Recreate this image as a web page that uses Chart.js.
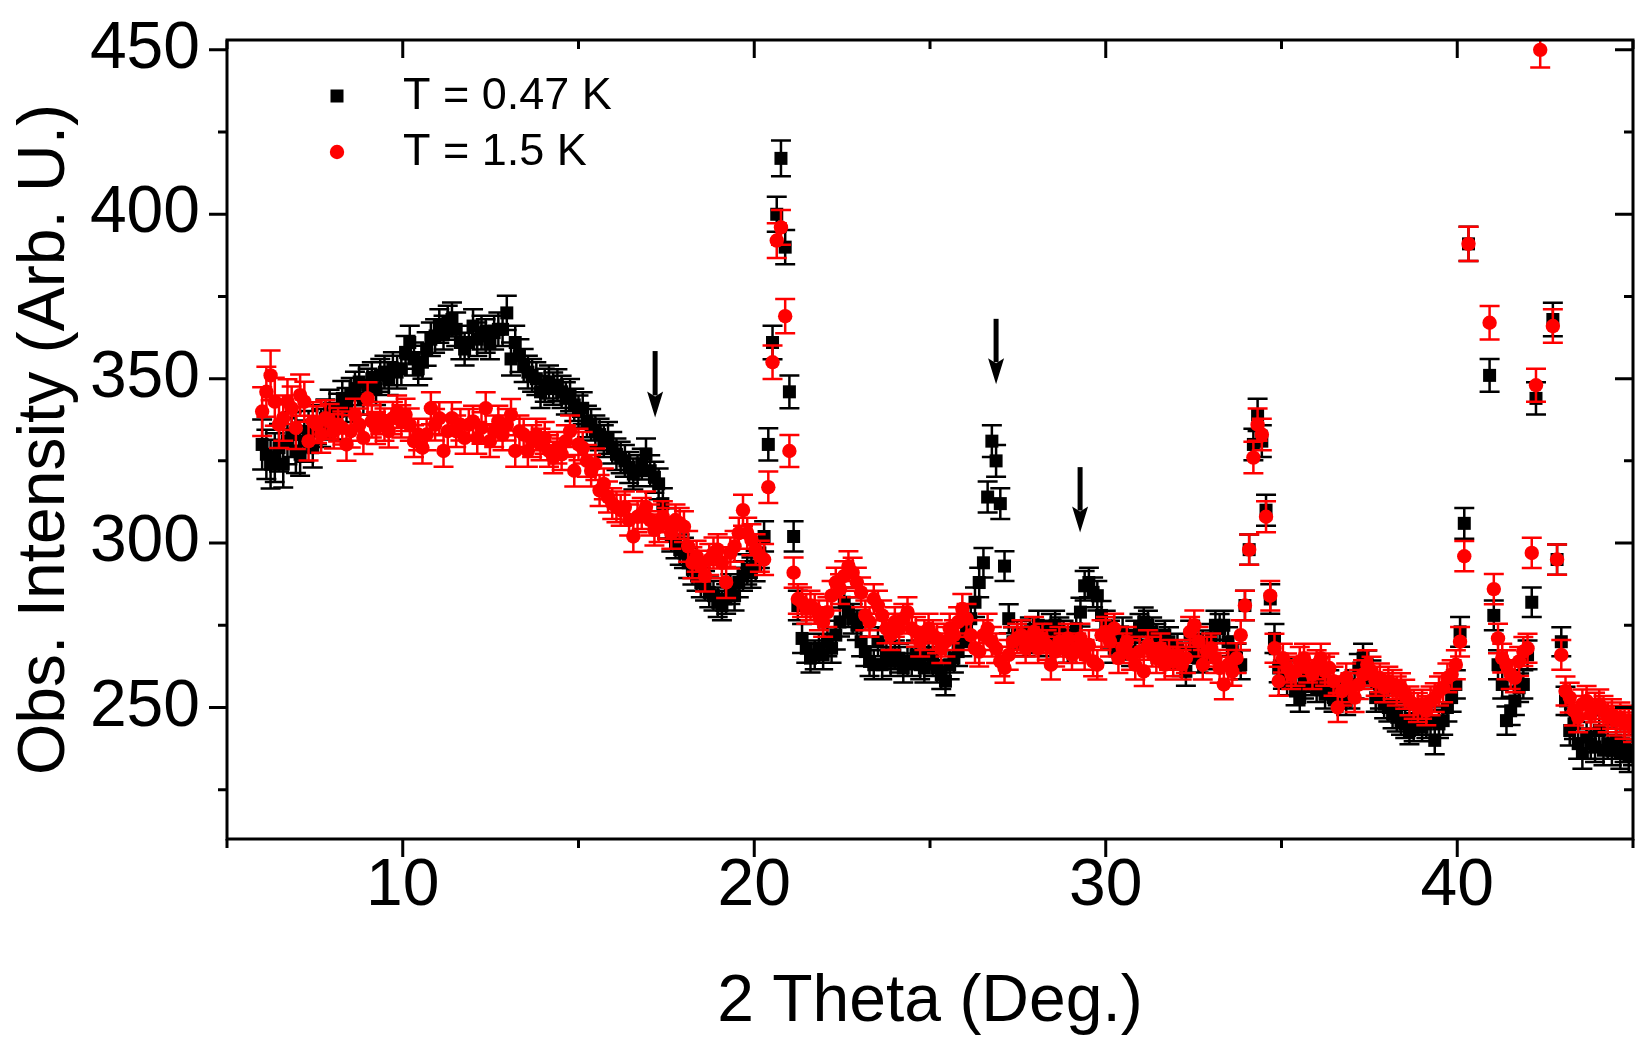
<!DOCTYPE html>
<html>
<head>
<meta charset="utf-8">
<script src="https://cdn.jsdelivr.net/npm/chart.js@4.4.1/dist/chart.umd.min.js"></script>
<style>
html, body { margin: 0; padding: 0; background: #fff; }
#wrap { width: 1650px; height: 1050px; }
</style>
</head>
<body>
<div id="wrap"><canvas id="chart" width="1650" height="1050"></canvas></div>
<script>
// DATA
// 2 theta grid: 6.00 .. 45.00 deg, 0.12 deg steps (326 points, 10 per row below)
const thetaStart = 6.0
const thetaStep = 0.12

// T = 0.47 K (black squares), null = above the plotted range
const black = [
    330, 327, 324, 326, 329, 324, 331, 333, 328, 327,   // 6.00
    331, 334, 329, 336, 335, 338, 341, 337, 340, 344,   // 7.20
    342, 345, 347, 349, 344, 348, 350, 347, 351, 352,   // 8.40
    350, 353, 352, 353, 358, 361, 356, 353, 355, 359,   // 9.60
    362, 363, 366, 364, 367, 368, 365, 361, 359, 361,   // 10.80
    366, 362, 364, 363, 361, 364, 365, 365, 370, 356,   // 12.00
    361, 357, 354, 352, 351, 350, 346, 348, 349, 347,   // 13.20
    348, 346, 344, 345, 342, 340, 341, 337, 336, 334,   // 14.40
    333, 331, 332, 329, 327, 326, 325, 323, 321, 322,   // 15.60
    324, 327, 322, 320, 318, 312, 306, 302, 300, 298,   // 16.80
    297, 294, 292, 290, 288, 287, 285, 284, 282, 281,   // 18.00
    283, 286, 284, 288, 290, 292, 291, 293, 297, 302,   // 19.20
    330, 361, 400, 417, 390, 346, 302, 281, 271, 268,   // 20.40
    265, 266, 268, 266, 270, 268, 272, 276, 282, 279,   // 21.60
    277, 275, 270, 267, 264, 263, 270, 263, 266, 264,   // 22.80
    266, 265, 262, 264, 264, 266, 263, 262, 266, 264,   // 24.00
    262, 260, 258, 263, 265, 267, 270, 274, 277, 282,   // 25.20
    288, 294, 314, 331, 325, 312, 293, 277, 270, 272,   // 26.40
    272, 270, 273, 271, 275, 272, 270, 274, 275, 273,   // 27.60
    272, 268, 270, 274, 279, 287, 288, 285, 284, 278,   // 28.80
    275, 272, 268, 270, 273, 269, 267, 272, 274, 276,   // 30.00
    275, 273, 271, 268, 272, 270, 266, 268, 264, 261,   // 31.20
    272, 268, 265, 269, 266, 271, 275, 274, 275, 270,   // 32.40
    267, 265, 263, 281, 298, 330, 339, 331, 310, 283,   // 33.60
    271, 262, 260, 258, 261, 255, 253, 257, 259, 258,   // 34.80
    256, 259, 254, 257, 253, 255, 254, 252, 254, 257,   // 36.00
    262, 265, 263, 260, 253, 254, 251, 250, 248, 247,   // 37.20
    246, 245, 243, 244, 246, 244, 245, 246, 240, 245,   // 38.40
    246, 250, 253, 257, 273, 306, 391, null, null, null, // 39.60
    null, 351, 278, 263, 257, 246, 249, 252, 256, 257,  // 40.80
    266, 282, 344, null, null, null, 368, 295, 270, 252, // 42.00
    243, 245, 239, 236, 241, 239, 238, 243, 237, 239,   // 43.20
    237, 240, 236, 238, 235, 237,                       // 44.40
]
const blackErr = [
    7.6, 7.5, 7.4, 7.4, 7.2, 7.1, 7.0, 6.8, 6.7, 6.5,
    6.3, 6.2, 6.0, 5.9, 5.8, 5.7, 5.6, 5.5, 5.4, 5.3,
    5.2, 5.2, 5.1, 5.1, 5.0, 5.0, 5.0, 5.0, 5.0, 5.0,
    5.0, 5.0, 5.0, 5.0, 5.0, 5.1, 5.0, 5.0, 5.0, 5.1,
    5.1, 5.1, 5.1, 5.1, 5.2, 5.2, 5.1, 5.1, 5.0, 5.1,
    5.1, 5.1, 5.1, 5.1, 5.1, 5.1, 5.1, 5.1, 5.2, 5.0,
    5.1, 5.0, 5.0, 5.0, 5.0, 5.0, 4.9, 5.0, 5.0, 4.9,
    4.9, 4.9, 4.9, 4.9, 4.9, 4.9, 4.9, 4.8, 4.8, 4.8,
    4.8, 4.8, 4.8, 4.8, 4.8, 4.8, 4.8, 4.7, 4.7, 4.7,
    4.7, 4.8, 4.7, 4.7, 4.7, 4.7, 4.6, 4.6, 4.6, 4.6,
    4.6, 4.6, 4.6, 4.5, 4.5, 4.5, 4.5, 4.5, 4.5, 4.5,
    4.5, 4.5, 4.5, 4.5, 4.5, 4.6, 4.6, 4.6, 4.6, 4.6,
    4.9, 5.1, 5.3, 5.4, 5.2, 5.0, 4.6, 4.5, 4.4, 4.4,
    4.4, 4.4, 4.4, 4.4, 4.4, 4.4, 4.4, 4.4, 4.5, 4.5,
    4.5, 4.5, 4.4, 4.4, 4.4, 4.4, 4.4, 4.4, 4.4, 4.4,
    4.4, 4.4, 4.4, 4.4, 4.4, 4.4, 4.4, 4.4, 4.4, 4.4,
    4.4, 4.4, 4.3, 4.4, 4.4, 4.4, 4.4, 4.4, 4.4, 4.5,
    4.5, 4.5, 4.7, 4.8, 4.8, 4.7, 4.5, 4.4, 4.4, 4.4,
    4.4, 4.4, 4.4, 4.4, 4.4, 4.4, 4.4, 4.4, 4.4, 4.4,
    4.4, 4.4, 4.4, 4.4, 4.4, 4.5, 4.5, 4.5, 4.5, 4.4,
    4.4, 4.4, 4.4, 4.4, 4.4, 4.4, 4.4, 4.4, 4.4, 4.4,
    4.4, 4.4, 4.4, 4.4, 4.4, 4.4, 4.4, 4.4, 4.4, 4.4,
    4.4, 4.4, 4.4, 4.4, 4.4, 4.4, 4.4, 4.4, 4.4, 4.4,
    4.4, 4.4, 4.4, 4.5, 4.6, 4.8, 4.9, 4.8, 4.7, 4.5,
    4.4, 4.3, 4.3, 4.3, 4.3, 4.3, 4.3, 4.3, 4.3, 4.3,
    4.3, 4.3, 4.3, 4.3, 4.3, 4.3, 4.3, 4.3, 4.3, 4.3,
    4.3, 4.4, 4.3, 4.3, 4.3, 4.3, 4.3, 4.3, 4.3, 4.3,
    4.3, 4.3, 4.2, 4.3, 4.3, 4.3, 4.3, 4.3, 4.2, 4.3,
    4.3, 4.3, 4.3, 4.3, 4.5, 4.7, 5.2, null, null, null,
    null, 5.0, 4.5, 4.4, 4.3, 4.3, 4.3, 4.3, 4.3, 4.3,
    4.4, 4.5, 4.9, null, null, null, 5.1, 4.6, 4.4, 4.3,
    4.6, 4.6, 4.6, 4.6, 4.6, 4.6, 4.6, 4.6, 4.6, 4.6,
    4.6, 4.6, 4.6, 4.6, 4.6, 4.6,
]

// T = 1.5 K (red circles)
const red = [
    340, 346, 351, 343, 336, 338, 343, 341, 335, 345,   // 6.00
    343, 331, 337, 336, 333, 338, 337, 334, 336, 335,   // 7.20
    330, 334, 339, 336, 332, 344, 337, 335, 338, 336,   // 8.40
    334, 338, 340, 337, 339, 336, 331, 333, 329, 333,   // 9.60
    341, 336, 338, 328, 334, 338, 334, 336, 332, 336,   // 10.80
    337, 332, 335, 341, 331, 334, 337, 333, 336, 339,   // 12.00
    328, 334, 333, 328, 331, 333, 330, 332, 328, 326,   // 13.20
    329, 327, 331, 334, 322, 330, 329, 325, 322, 324,   // 14.40
    316, 318, 314, 312, 311, 310, 311, 307, 302, 308,   // 15.60
    309, 311, 307, 304, 305, 308, 306, 303, 307, 306,   // 16.80
    305, 299, 294, 296, 293, 290, 295, 297, 298, 294,   // 18.00
    288, 297, 299, 303, 310, 303, 301, 298, 296, 295,   // 19.20
    317, 355, 392, 396, 369, 328, 291, 283, 282, 280,   // 20.40
    281, 280, 278, 276, 279, 284, 288, 286, 290, 293,   // 21.60
    291, 288, 285, 278, 276, 283, 281, 278, 274, 272,   // 22.80
    276, 274, 277, 279, 274, 273, 270, 272, 274, 272,   // 24.00
    271, 268, 270, 274, 272, 276, 280, 277, 272, 268,   // 25.20
    267, 272, 274, 270, 268, 264, 262, 266, 270, 271,   // 26.40
    272, 268, 270, 273, 268, 271, 269, 263, 267, 270,   // 27.60
    268, 271, 266, 268, 271, 266, 269, 264, 263, 272,   // 28.80
    273, 270, 274, 265, 268, 270, 266, 263, 267, 261,   // 30.00
    269, 267, 265, 268, 263, 266, 264, 266, 263, 265,   // 31.20
    273, 275, 270, 263, 267, 268, 265, 262, 257, 263,   // 32.40
    261, 265, 272, 281, 298, 326, 336, 333, 308, 284,   // 33.60
    268, 258, 265, 262, 260, 261, 264, 265, 262, 260,   // 34.80
    263, 265, 261, 262, 258, 250, 255, 259, 256, 253,   // 36.00
    257, 260, 263, 261, 258, 259, 256, 258, 257, 255,   // 37.20
    256, 254, 252, 251, 250, 251, 249, 252, 253, 255,   // 38.40
    256, 259, 260, 263, 270, 296, 391, null, null, null, // 39.60
    null, 367, 286, 271, 265, 263, 260, 259, 264, 267,  // 40.80
    268, 297, 348, 450, null, null, 366, 295, 266, 255, // 42.00
    253, 249, 247, 251, 252, 248, 250, 251, 249, 247,   // 43.20
    248, 246, 247, 245, 246, 244,                       // 44.40
]
const redErr = [
    7.4, 7.6, 7.6, 7.3, 7.1, 6.9, 6.8, 6.6, 6.4, 6.3,
    6.1, 5.9, 5.8, 5.6, 5.5, 5.4, 5.3, 5.2, 5.1, 5.0,
    5.0, 4.9, 4.9, 4.9, 4.9, 4.9, 4.9, 4.9, 4.9, 4.9,
    4.9, 4.9, 4.9, 4.9, 4.9, 4.9, 4.8, 4.8, 4.8, 4.8,
    4.9, 4.8, 4.8, 4.8, 4.8, 4.8, 4.8, 4.8, 4.8, 4.8,
    4.8, 4.8, 4.8, 4.9, 4.8, 4.8, 4.8, 4.8, 4.8, 4.8,
    4.8, 4.8, 4.8, 4.8, 4.8, 4.8, 4.8, 4.8, 4.8, 4.8,
    4.8, 4.8, 4.8, 4.8, 4.8, 4.8, 4.8, 4.8, 4.8, 4.8,
    4.7, 4.7, 4.7, 4.7, 4.7, 4.7, 4.7, 4.7, 4.7, 4.7,
    4.7, 4.7, 4.7, 4.7, 4.7, 4.7, 4.7, 4.7, 4.7, 4.7,
    4.7, 4.7, 4.7, 4.7, 4.7, 4.7, 4.7, 4.7, 4.7, 4.7,
    4.7, 4.7, 4.7, 4.7, 4.7, 4.7, 4.7, 4.7, 4.7, 4.7,
    4.8, 5.1, 5.3, 5.3, 5.2, 4.9, 4.6, 4.5, 4.5, 4.5,
    4.5, 4.5, 4.5, 4.5, 4.5, 4.5, 4.5, 4.5, 4.5, 4.5,
    4.5, 4.5, 4.5, 4.5, 4.5, 4.5, 4.5, 4.5, 4.5, 4.5,
    4.5, 4.5, 4.5, 4.5, 4.5, 4.5, 4.5, 4.5, 4.5, 4.5,
    4.5, 4.5, 4.5, 4.5, 4.5, 4.5, 4.5, 4.5, 4.5, 4.5,
    4.5, 4.5, 4.5, 4.5, 4.5, 4.5, 4.5, 4.5, 4.5, 4.5,
    4.5, 4.5, 4.5, 4.5, 4.5, 4.5, 4.5, 4.5, 4.5, 4.5,
    4.5, 4.5, 4.5, 4.5, 4.5, 4.5, 4.5, 4.5, 4.5, 4.5,
    4.5, 4.5, 4.5, 4.5, 4.5, 4.5, 4.5, 4.5, 4.5, 4.5,
    4.5, 4.5, 4.5, 4.5, 4.5, 4.5, 4.5, 4.5, 4.5, 4.5,
    4.5, 4.5, 4.5, 4.5, 4.5, 4.5, 4.5, 4.5, 4.5, 4.5,
    4.4, 4.5, 4.5, 4.5, 4.6, 4.8, 4.9, 4.8, 4.7, 4.5,
    4.4, 4.4, 4.4, 4.4, 4.4, 4.4, 4.4, 4.4, 4.4, 4.4,
    4.4, 4.4, 4.4, 4.4, 4.4, 4.4, 4.4, 4.4, 4.4, 4.4,
    4.4, 4.4, 4.4, 4.4, 4.4, 4.4, 4.4, 4.4, 4.4, 4.4,
    4.4, 4.4, 4.4, 4.4, 4.4, 4.4, 4.4, 4.4, 4.4, 4.4,
    4.4, 4.4, 4.4, 4.4, 4.5, 4.6, 5.2, null, null, null,
    null, 5.1, 4.6, 4.5, 4.4, 4.4, 4.4, 4.4, 4.4, 4.4,
    4.4, 4.6, 5.0, 5.4, null, null, 5.1, 4.6, 4.5, 4.4,
    4.5, 4.5, 4.5, 4.5, 4.5, 4.5, 4.5, 4.5, 4.5, 4.5,
    4.5, 4.5, 4.5, 4.5, 4.5, 4.5,
]

// axes
const xRange = [5, 45]
const yRange = [210, 453]
const xMajor = [10, 20, 30, 40]
const xMinor = [5, 15, 25, 35, 45]
const yMajor = [250, 300, 350, 400, 450]
const yMinor = [225, 275, 325, 375, 425]

// arrows (2 theta, top of shaft, tip)
const arrowX = [17.18, 26.88, 29.27]
const arrowTop = [358.4, 368.2, 323.1]
const arrowTip = [338.2, 348.3, 303.2]

const theta = black.map((_, i) => +(thetaStart + i * thetaStep).toFixed(2))
const FONT = '"Liberation Sans", Arial, Helvetica, sans-serif'


// PLUGINS
const errorBars = {
    id: 'errorBars',
    beforeDatasetDraw(chart, args) {
        const ds = chart.data.datasets[args.index]
        const {ctx, chartArea: a} = chart
        const y = chart.scales.y
        const cap = 10
        ctx.save()
        ctx.beginPath()
        ctx.rect(a.left, a.top, a.right - a.left, a.bottom - a.top)
        ctx.clip()
        ctx.strokeStyle = ds.backgroundColor
        ctx.lineWidth = 2.5
        ctx.beginPath()
        args.meta.data.forEach((pt, i) => {
            const v = ds.data[i].y, e = ds.errors[i]
            if (v == null || e == null) return
            const px = pt.x
            const top = y.getPixelForValue(v + e), bot = y.getPixelForValue(v - e)
            ctx.moveTo(px, top); ctx.lineTo(px, bot)
            ctx.moveTo(px - cap, top); ctx.lineTo(px + cap, top)
            ctx.moveTo(px - cap, bot); ctx.lineTo(px + cap, bot)
        })
        ctx.stroke()
        ctx.restore()
    }
}

const frame = {
    id: 'frame',
    afterDatasetsDraw(chart) {
        const {ctx, chartArea: a, scales: {x, y}} = chart
        ctx.save()
        ctx.strokeStyle = '#000'
        ctx.fillStyle = '#000'
        ctx.lineWidth = 3
        ctx.strokeRect(a.left, a.top, a.right - a.left, a.bottom - a.top)

        // ticks: bottom/left outward, top/right inward
        ctx.beginPath()
        const xt = (vals, len) => vals.forEach(v => {
            const px = x.getPixelForValue(v)
            ctx.moveTo(px, a.bottom); ctx.lineTo(px, a.bottom + len)
            ctx.moveTo(px, a.top); ctx.lineTo(px, a.top + len)
        })
        const yt = (vals, len) => vals.forEach(v => {
            const py = y.getPixelForValue(v)
            ctx.moveTo(a.left, py); ctx.lineTo(a.left - len, py)
            ctx.moveTo(a.right, py); ctx.lineTo(a.right - len, py)
        })
        xt(xMajor, 18); xt(xMinor, 9)
        yt(yMajor, 18); yt(yMinor, 9)
        ctx.stroke()

        // arrows
        arrowX.forEach((ax, i) => {
            const px = x.getPixelForValue(ax)
            const t = y.getPixelForValue(arrowTop[i])
            const b = y.getPixelForValue(arrowTip[i])
            const head = 26
            ctx.lineWidth = 5
            ctx.beginPath()
            ctx.moveTo(px, t); ctx.lineTo(px, b - head + 4)
            ctx.stroke()
            ctx.beginPath()
            ctx.moveTo(px, b)
            ctx.lineTo(px - 8, b - head)
            ctx.lineTo(px, b - head + 5)
            ctx.lineTo(px + 8, b - head)
            ctx.closePath()
            ctx.fill()
        })

        // legend
        ctx.font = '45px ' + FONT
        ctx.textBaseline = 'middle'
        ctx.textAlign = 'left'
        chart.data.datasets.forEach((ds, i) => {
            const mx = a.left + 110, my = a.top + 56 + i * 56
            ctx.fillStyle = ds.backgroundColor
            if (ds.pointStyle === 'rect') {
                ctx.fillRect(mx - 6.5, my - 6.5, 13, 13)
            } else {
                ctx.beginPath(); ctx.arc(mx, my, 7.2, 0, Math.PI * 2); ctx.fill()
            }
            ctx.fillStyle = '#000'
            ctx.fillText(ds.label, a.left + 176, my + 1)
        })
        ctx.restore()
    }
}


// CHART
const axisFont = size => ({family: FONT, size})

new Chart(document.getElementById('chart'), {
    type: 'scatter',
    data: {
        datasets: [
            {
                label: 'T = 0.47 K',
                data: theta.map((t, i) => ({x: t, y: black[i]})),
                errors: blackErr,
                backgroundColor: '#000000',
                pointStyle: 'rect',
                pointRadius: 9.2,
                pointBorderWidth: 0,
                order: 2,
            },
            {
                label: 'T = 1.5 K',
                data: theta.map((t, i) => ({x: t, y: red[i]})),
                errors: redErr,
                backgroundColor: '#ff0000',
                pointStyle: 'circle',
                pointRadius: 7.2,
                pointBorderWidth: 0,
                order: 1,
            },
        ]
    },
    options: {
        responsive: false,
        animation: false,
        devicePixelRatio: 1,
        layout: {padding: {top: 40, right: 17, left: 0, bottom: 0}},
        plugins: {legend: {display: false}, tooltip: {enabled: false}},
        scales: {
            x: {
                type: 'linear', min: xRange[0], max: xRange[1],
                afterFit: s => { s.height = 211; s.paddingLeft = 0; s.paddingRight = 0 },
                afterBuildTicks: s => { s.ticks = xMajor.map(v => ({value: v})) },
                grid: {display: false, drawTicks: false},
                border: {display: false},
                ticks: {font: axisFont(66), color: '#000', padding: 8, autoSkip: false, maxRotation: 0},
                title: {display: true, text: '2 Theta (Deg.)', font: axisFont(66), color: '#000', padding: {top: 0, bottom: 8}},
            },
            y: {
                type: 'linear', min: yRange[0], max: yRange[1],
                afterFit: s => { s.width = 227; s.paddingTop = 0; s.paddingBottom = 0 },
                afterBuildTicks: s => { s.ticks = yMajor.map(v => ({value: v})) },
                grid: {display: false, drawTicks: false},
                border: {display: false},
                ticks: {font: axisFont(66), color: '#000', padding: 27, autoSkip: false},
                title: {display: true, text: 'Obs. Intensity (Arb. U.)', font: axisFont(66), color: '#000', padding: {top: 6, bottom: 0}},
            },
        }
    },
    plugins: [errorBars, frame]
})
</script>
</body>
</html>
